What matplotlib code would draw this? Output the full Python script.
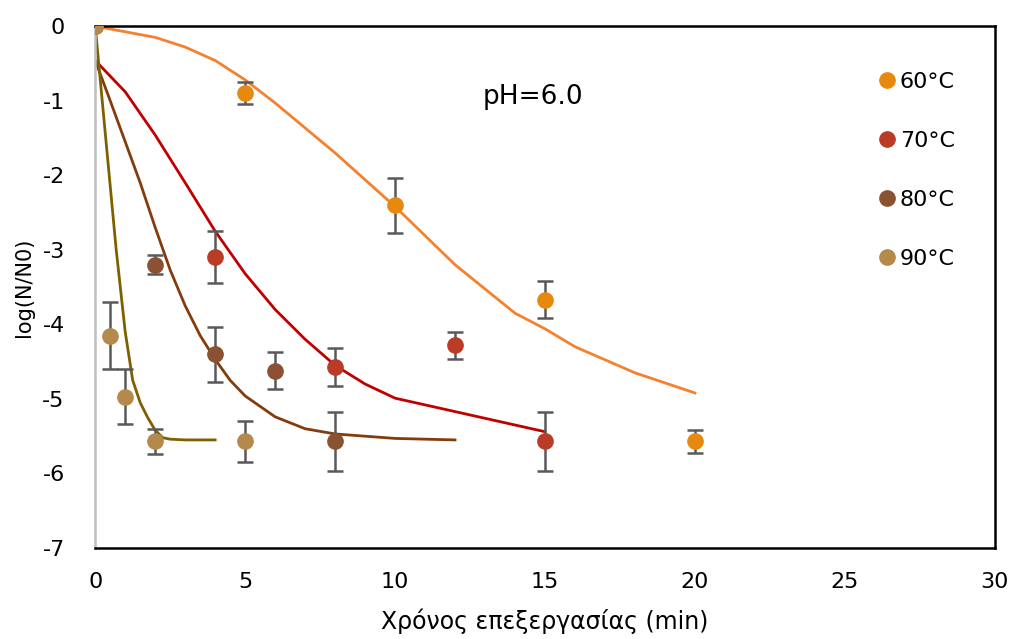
import numpy as np
from matplotlib import pyplot as plt

plt.rcParams['font.family'] = ['DejaVu Sans']
plt.rcParams['axes.unicode_minus'] = False

# measured points (time in min, log(N/N0), error)
t60 = [0, 5, 10, 15, 20]
y60 = [0, -0.9, -2.4, -3.67, -5.57]
e60 = [0, 0.15, 0.37, 0.25, 0.15]

t70 = [0, 4, 8, 12, 15]
y70 = [0, -3.1, -4.57, -4.28, -5.57]
e70 = [0, 0.35, 0.25, 0.18, 0.4]

t80 = [0, 2, 4, 6, 8]
y80 = [0, -3.2, -4.4, -4.62, -5.57]
e80 = [0, 0.13, 0.37, 0.25, 0.4]

t90 = [0, 0.5, 1, 2, 5]
y90 = [0, -4.15, -4.97, -5.57, -5.57]
e90 = [0, 0.45, 0.37, 0.17, 0.28]

# fitted curves
ft60 = [0, 2, 3, 4, 5, 6, 8, 10, 12, 14, 15, 16, 18, 20]
fy60 = [0, -0.15, -0.28, -0.46, -0.72, -1.03, -1.7, -2.42, -3.2, -3.85, -4.06, -4.3, -4.65, -4.92]

ft70 = [0, 1, 2, 3, 4, 5, 6, 7, 8, 9, 10, 12, 15]
fy70 = [-0.46, -0.88, -1.46, -2.1, -2.75, -3.32, -3.8, -4.2, -4.55, -4.8, -4.99, -5.17, -5.44]

ft80 = [0, 0.5, 1, 1.5, 2, 2.5, 3, 3.5, 4, 4.5, 5, 6, 7, 8, 10, 12]
fy80 = [-0.46, -1.0, -1.55, -2.1, -2.7, -3.27, -3.75, -4.15, -4.47, -4.75, -4.96, -5.24, -5.4, -5.47, -5.53, -5.55]

ft90 = [0, 0.35, 0.7, 1.0, 1.25, 1.5, 1.75, 2.0, 2.25, 2.5, 3, 4]
fy90 = [0, -1.5, -3.0, -4.1, -4.75, -5.05, -5.25, -5.42, -5.52, -5.54, -5.55, -5.55]

fig = plt.figure(figsize=(10.13, 6.39), dpi=100)
ax = fig.add_axes([0.094, 0.1424, 0.888, 0.8166])

ax.plot(ft60, fy60, color='#F4812E', lw=2, zorder=2)
ax.plot(ft70, fy70, color='#C00000', lw=2, zorder=2)
ax.plot(ft80, fy80, color='#843C0C', lw=2, zorder=2)
ax.plot(ft90, fy90, color='#7F6000', lw=2, zorder=2)

series = [
	(t60, y60, e60, '#E8890F', '60°C'),
	(t70, y70, e70, '#BA3C27', '70°C'),
	(t80, y80, e80, '#8A5232', '80°C'),
	(t90, y90, e90, '#B5894B', '90°C'),
]
for t, y, e, c, lab in series:
	ax.errorbar(t, y, yerr=e, fmt='none', ecolor='#595959', elinewidth=1.8, capsize=6, capthick=1.8, zorder=3)
	ax.plot(t, y, 'o', color=c, markersize=11, label=lab, zorder=4)

ax.set_xlim(0, 30)
ax.set_ylim(-7, 0)
ax.set_xticks(range(0, 31, 5))
ax.set_yticks(range(-7, 1))
ax.tick_params(length=0, labelsize=16)
ax.tick_params(axis='x', pad=17)
ax.tick_params(axis='y', pad=22)
for s in ['top', 'right', 'bottom']:
	ax.spines[s].set_color('black')
	ax.spines[s].set_linewidth(1.8)
ax.spines['left'].set_color('#BFBFBF')
ax.spines['left'].set_linewidth(1.8)

ax.set_xlabel('Χρόνος επεξεργασίας (min)', fontsize=17, labelpad=12)
ax.set_ylabel('log(N/N0)', fontsize=15, labelpad=6)
ax.text(14.6, -0.95, 'pH=6.0', fontsize=19, ha='center', va='center')

ax.legend(loc='upper left', bbox_to_anchor=(0.855, 0.933), frameon=False, fontsize=16,
	handletextpad=0.1, labelspacing=1.75, handlelength=1.0, borderpad=0)

plt.savefig('out.png', dpi=100)
